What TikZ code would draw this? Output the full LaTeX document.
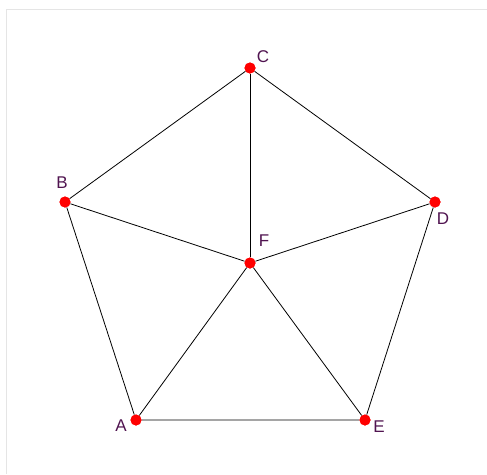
\documentclass[tikz,border=0pt]{standalone}
\usepackage{fontspec}
\setmainfont{Liberation Sans}
\usepackage{tikz}
\usetikzlibrary{positioning}
\definecolor{labelpurple}{RGB}{80,20,80}

\begin{document}
\begin{tikzpicture}[
  x=1pt, y=-1pt,
  vertex/.style={circle, fill=red, inner sep=0pt, minimum size=11pt},
  lbl/.style={font=\fontsize{17}{17}\selectfont, text=labelpurple, inner sep=0pt},
  edge/.style={line width=0.8pt, black}
]
\useasboundingbox (0,0) rectangle (487,474);
\draw[black!10, line width=0.8pt] (6.5,474) -- (6.5,9.5) -- (487,9.5);

\node[vertex] (A) at (136,420) {};
\node[vertex] (B) at (65,202) {};
\node[vertex] (C) at (250,68) {};
\node[vertex] (D) at (435,202) {};
\node[vertex] (E) at (365,420) {};
\node[vertex] (F) at (250,263) {};

% outer ring
\draw[edge] (A) -- (B) -- (C) -- (D) -- (E) -- (A);
% spokes
\foreach \v in {A,B,C,D,E}
  \draw[edge] (F) -- (\v);

% redraw dots over the lines
\foreach \v in {A,B,C,D,E,F}
  \fill[red] (\v) circle (5.5pt);

\node[lbl] (lA) at (121,426) {A};
\node[lbl] (lB) at (62,183) {B};
\node[lbl] (lC) at (263,57) {C};
\node[lbl] (lD) at (443,219) {D};
\node[lbl] (lE) at (379,427) {E};
\node[lbl] (lF) at (264,241) {F};
\end{tikzpicture}
\end{document}
